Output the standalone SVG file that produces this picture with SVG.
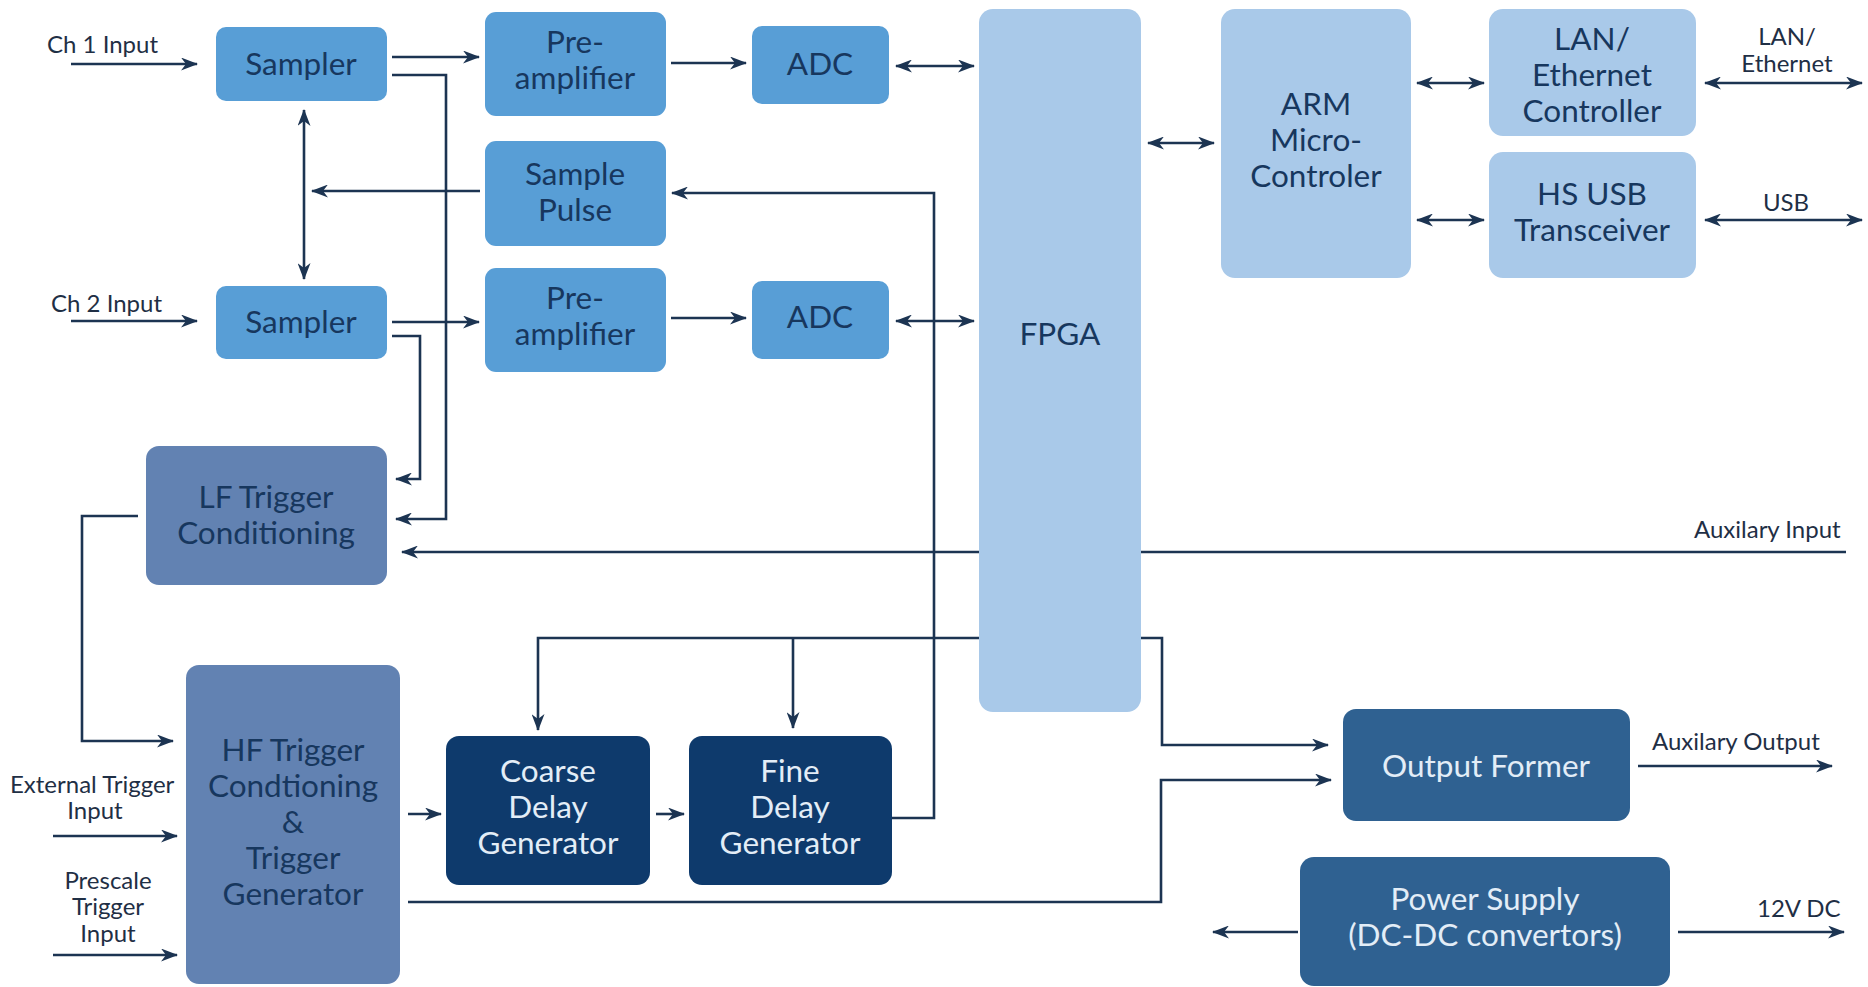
<svg xmlns="http://www.w3.org/2000/svg" width="1868" height="987" viewBox="0 0 1868 987">
  <defs>
    <marker id="arrow" viewBox="0 0 17 13" markerWidth="17" markerHeight="13" refX="16" refY="6.5" orient="auto-start-reverse" markerUnits="userSpaceOnUse">
      <path d="M0,0 L17,6.5 L0,13 L5,6.5 Z" fill="#1c3452"/>
    </marker>
    <style>
      .node rect { stroke: none; }
      .mid { fill: #589ed6; }
      .light { fill: #a9c9e9; }
      .slate { fill: #6282b2; }
      .navy { fill: #0e3a6c; }
      .steel { fill: #2f6191; }
      .lbl { font-family: Lato, "Open Sans", "Liberation Sans", sans-serif; font-size: 31.5px; text-anchor: middle; fill: #17375e; }
      .lbl.inv { fill: #e3edf7; }
      .ext { font-family: Lato, "Open Sans", "Liberation Sans", sans-serif; font-size: 24px; fill: #1f2f45; }
      .mid-anchor { text-anchor: middle; }
      .wire { fill: none; stroke: #1c3452; stroke-width: 2.6; }
      .to { marker-end: url(#arrow); }
      .both { marker-start: url(#arrow); marker-end: url(#arrow); }
    </style>
  </defs>

  <rect width="1868" height="987" fill="#ffffff"/>

  <!-- signal and control paths -->
  <g id="connectors">
    <path class="wire to" d="M71,64 H197"/>
    <path class="wire to" d="M71,321 H197"/>
    <path class="wire to" d="M392,57 H479"/>
    <path class="wire to" d="M392,322 H479"/>
    <path class="wire to" d="M671,63 H746"/>
    <path class="wire to" d="M671,318 H746"/>
    <path class="wire both" d="M896,66 H974"/>
    <path class="wire both" d="M896,321 H974"/>
    <path class="wire both" d="M1148,143 H1214"/>
    <path class="wire both" d="M1417,83 H1484"/>
    <path class="wire both" d="M1417,220 H1484"/>
    <path class="wire both" d="M1705,83 H1862"/>
    <path class="wire both" d="M1705,220 H1862"/>
    <path class="wire both" d="M304,110 V279"/>
    <path class="wire to" d="M480,191 H312"/>
    <path class="wire to" d="M892,818 H934 V193 H672"/>
    <path class="wire to" d="M392,75 H446 V519 H396"/>
    <path class="wire to" d="M392,336 H420 V479 H396"/>
    <path class="wire to" d="M1846,552 H402"/>
    <path class="wire to" d="M138,516 H82 V741 H173"/>
    <path class="wire to" d="M53,836 H177"/>
    <path class="wire to" d="M53,955 H177"/>
    <path class="wire to" d="M408,814 H441"/>
    <path class="wire to" d="M656,814 H684"/>
    <path class="wire to" d="M980,638 H538 V730"/>
    <path class="wire to" d="M793,638 V728"/>
    <path class="wire to" d="M1141,638 H1162 V745 H1328"/>
    <path class="wire to" d="M408,902 H1161 V780 H1331"/>
    <path class="wire to" d="M1638,766 H1832"/>
    <path class="wire to" d="M1298,932 H1213"/>
    <path class="wire to" d="M1678,932 H1844"/>
  </g>

  <!-- port labels -->
  <g id="port-labels">
    <text class="ext" x="47" y="53">Ch 1 Input</text>
    <text class="ext" x="51" y="312">Ch 2 Input</text>
    <text class="ext" x="10" y="793">External Trigger</text>
    <text class="ext mid-anchor" x="95" y="819">Input</text>
    <text class="ext mid-anchor" x="108" y="889">Prescale</text>
    <text class="ext mid-anchor" x="108" y="915">Trigger</text>
    <text class="ext mid-anchor" x="108" y="942">Input</text>
    <text class="ext mid-anchor" x="1787" y="45">LAN/</text>
    <text class="ext mid-anchor" x="1787" y="72">Ethernet</text>
    <text class="ext mid-anchor" x="1786" y="211">USB</text>
    <text class="ext" x="1694" y="538">Auxilary Input</text>
    <text class="ext" x="1652" y="750">Auxilary Output</text>
    <text class="ext" x="1757" y="917">12V DC</text>
  </g>

  <g id="sampler1" class="node">
    <rect class="mid" x="216" y="27" width="171" height="74" rx="10"/>
    <text class="lbl" x="301" y="75">Sampler</text>
  </g>
  <g id="preamp1" class="node">
    <rect class="mid" x="485" y="12" width="181" height="104" rx="11"/>
    <text class="lbl" x="575" y="53">Pre-</text>
    <text class="lbl" x="575" y="89">amplifier</text>
  </g>
  <g id="adc1" class="node">
    <rect class="mid" x="752" y="26" width="137" height="78" rx="10"/>
    <text class="lbl" x="820" y="75">ADC</text>
  </g>
  <g id="sample-pulse" class="node">
    <rect class="mid" x="485" y="141" width="181" height="105" rx="11"/>
    <text class="lbl" x="575" y="185">Sample</text>
    <text class="lbl" x="575" y="221">Pulse</text>
  </g>
  <g id="sampler2" class="node">
    <rect class="mid" x="216" y="286" width="171" height="73" rx="10"/>
    <text class="lbl" x="301" y="333">Sampler</text>
  </g>
  <g id="preamp2" class="node">
    <rect class="mid" x="485" y="268" width="181" height="104" rx="11"/>
    <text class="lbl" x="575" y="309">Pre-</text>
    <text class="lbl" x="575" y="345">amplifier</text>
  </g>
  <g id="adc2" class="node">
    <rect class="mid" x="752" y="281" width="137" height="78" rx="10"/>
    <text class="lbl" x="820" y="328">ADC</text>
  </g>
  <g id="fpga" class="node">
    <rect class="light" x="979" y="9" width="162" height="703" rx="14"/>
    <text class="lbl" x="1060" y="345">FPGA</text>
  </g>
  <g id="arm" class="node">
    <rect class="light" x="1221" y="9" width="190" height="269" rx="14"/>
    <text class="lbl" x="1316" y="115">ARM</text>
    <text class="lbl" x="1316" y="151">Micro-</text>
    <text class="lbl" x="1316" y="187">Controler</text>
  </g>
  <g id="lan" class="node">
    <rect class="light" x="1489" y="9" width="207" height="127" rx="14"/>
    <text class="lbl" x="1592" y="50">LAN/</text>
    <text class="lbl" x="1592" y="86">Ethernet</text>
    <text class="lbl" x="1592" y="122">Controller</text>
  </g>
  <g id="usb" class="node">
    <rect class="light" x="1489" y="152" width="207" height="126" rx="14"/>
    <text class="lbl" x="1592" y="205">HS USB</text>
    <text class="lbl" x="1592" y="241">Transceiver</text>
  </g>
  <g id="lf-trigger" class="node">
    <rect class="slate" x="146" y="446" width="241" height="139" rx="13"/>
    <text class="lbl" x="266" y="508">LF Trigger</text>
    <text class="lbl" x="266" y="544">Conditioning</text>
  </g>
  <g id="hf-trigger" class="node">
    <rect class="slate" x="186" y="665" width="214" height="319" rx="13"/>
    <text class="lbl" x="293" y="761">HF Trigger</text>
    <text class="lbl" x="293" y="797">Condtioning</text>
    <text class="lbl" x="293" y="833">&amp;</text>
    <text class="lbl" x="293" y="869">Trigger</text>
    <text class="lbl" x="293" y="905">Generator</text>
  </g>
  <g id="coarse-delay" class="node">
    <rect class="navy" x="446" y="736" width="204" height="149" rx="13"/>
    <text class="lbl inv" x="548" y="782">Coarse</text>
    <text class="lbl inv" x="548" y="818">Delay</text>
    <text class="lbl inv" x="548" y="854">Generator</text>
  </g>
  <g id="fine-delay" class="node">
    <rect class="navy" x="689" y="736" width="203" height="149" rx="13"/>
    <text class="lbl inv" x="790" y="782">Fine</text>
    <text class="lbl inv" x="790" y="818">Delay</text>
    <text class="lbl inv" x="790" y="854">Generator</text>
  </g>
  <g id="output-former" class="node">
    <rect class="steel" x="1343" y="709" width="287" height="112" rx="13"/>
    <text class="lbl inv" x="1486" y="777">Output Former</text>
  </g>
  <g id="power-supply" class="node">
    <rect class="steel" x="1300" y="857" width="370" height="129" rx="14"/>
    <text class="lbl inv" x="1485" y="910">Power Supply</text>
    <text class="lbl inv" x="1485" y="946">(DC-DC convertors)</text>
  </g>
</svg>
